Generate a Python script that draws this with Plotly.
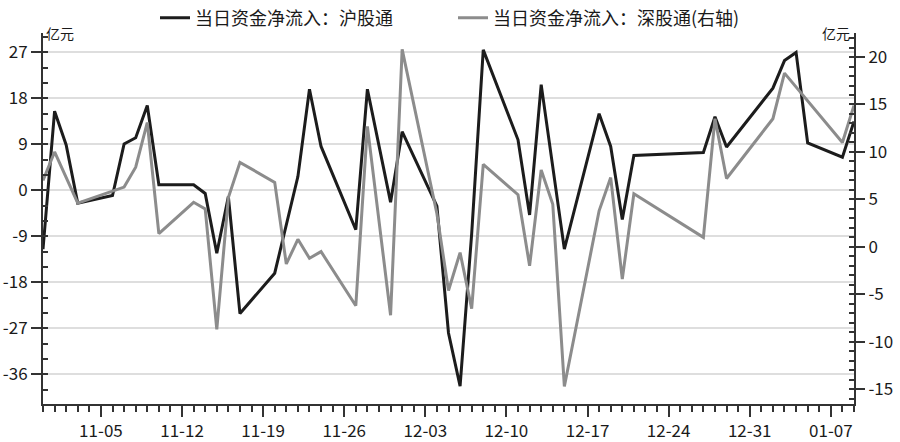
import plotly.graph_objects as go

dates = ["2017-10-31", "2017-11-01", "2017-11-02", "2017-11-03", "2017-11-06", "2017-11-07",
         "2017-11-08", "2017-11-09", "2017-11-10", "2017-11-13", "2017-11-14", "2017-11-15",
         "2017-11-16", "2017-11-17", "2017-11-20", "2017-11-21", "2017-11-22", "2017-11-23",
         "2017-11-24", "2017-11-27", "2017-11-28", "2017-11-29", "2017-11-30", "2017-12-01",
         "2017-12-04", "2017-12-05", "2017-12-06", "2017-12-07", "2017-12-08", "2017-12-11",
         "2017-12-12", "2017-12-13", "2017-12-14", "2017-12-15", "2017-12-18", "2017-12-19",
         "2017-12-20", "2017-12-21", "2017-12-22", "2017-12-27", "2017-12-28", "2017-12-29",
         "2018-01-02", "2018-01-03", "2018-01-04", "2018-01-05", "2018-01-08", "2018-01-09"]

sh_flow = [-11.5, 15.5, 8.9, -2.5, -1.0, 9.1,
           10.3, 16.6, 1.1, 1.1, -0.6, -12.3,
           -1.2, -24.1, -16.2, -6.7, 2.7, 19.8,
           8.6, -7.7, 19.8, None, -2.3, 11.5,
           -3.1, -27.9, -38.3, -8.5, 27.5, 9.9,
           -4.8, 20.7, None, -11.5, 15.0, 8.6,
           -5.7, 6.85, None, 7.4, 14.4, 8.5,
           20.0, 25.4, 27.0, 9.3, 6.5, 13.5]

sz_flow = [7.0, 10.0, None, 4.6, 5.9, 6.3,
           8.4, 13.1, 1.4, 4.7, 4.0, -8.7,
           5.2, 8.9, 6.8, -1.8, 0.8, -1.2,
           -0.5, -6.2, 12.7, None, -7.2, 20.8,
           3.5, -4.6, -0.6, -6.5, 8.7, 5.5,
           -2.0, 8.1, 4.5, -14.7, 3.8, 7.3,
           -3.4, 5.6, None, 1.0, 13.5, 7.2,
           13.5, 18.3, None, None, 11.0, 14.9]

left_ticks = [-36, -27, -18, -9, 0, 9, 18, 27]
right_ticks = [-15, -10, -5, 0, 5, 10, 15, 20]

name_sh = "当日资金净流入：沪股通"
name_sz = "当日资金净流入：深股通(右轴)"

FONT = "Noto Sans CJK SC"
AX = "#333333"

fig = go.Figure()
fig.add_trace(go.Scatter(x=dates, y=sh_flow, name=name_sh, mode="lines",
                         line=dict(color="#1c1c1c", width=3), connectgaps=True,
                         yaxis="y"))
fig.add_trace(go.Scatter(x=dates, y=sz_flow, name=name_sz, mode="lines",
                         line=dict(color="#8c8c8c", width=3), connectgaps=True,
                         yaxis="y2"))

fig.update_layout(
    width=900, height=442,
    margin=dict(l=43, r=46, t=33, b=38, autoexpand=False),
    plot_bgcolor="white", paper_bgcolor="white",
    font=dict(family=FONT, size=17, color="#1a1a1a"),
    showlegend=True,
    legend=dict(orientation="h", xref="container", yref="container",
                x=155 / 900, xanchor="left", y=1 - 18 / 442, yanchor="middle",
                font=dict(size=18, family=FONT, color="#1a1a1a"),
                entrywidth=253, entrywidthmode="pixels",
                bgcolor="rgba(0,0,0,0)"),
    xaxis=dict(type="date", range=["2017-10-31", "2018-01-09"], automargin=False,
               tickmode="linear", tick0="2017-11-05", dtick=7 * 86400000,
               tickformat="%m-%d", ticks="outside", ticklen=11, tickwidth=2,
               tickcolor=AX, showline=True, linecolor=AX, linewidth=2,
               showgrid=False, zeroline=False,
               minor=dict(ticks="outside", ticklen=6, tickwidth=2, tickcolor=AX,
                          tickmode="linear", tick0="2017-10-31", dtick=86400000,
                          showgrid=False),
               tickfont=dict(size=17)),
    yaxis=dict(range=[-41.8, 30.8], automargin=False, tickmode="array", tickvals=left_ticks,
               ticktext=[str(v) for v in left_ticks],
               ticks="outside", ticklen=10, tickwidth=2, tickcolor=AX,
               showline=True, linecolor=AX, linewidth=2,
               showgrid=True, gridcolor="#dedede", gridwidth=1.5, zeroline=False,
               minor=dict(ticks="inside", ticklen=5, tickwidth=2, tickcolor=AX,
                          tickmode="linear", tick0=0, dtick=3, showgrid=False),
               tickfont=dict(size=17)),
    yaxis2=dict(range=[-16.55, 22.53], automargin=False, overlaying="y", side="right",
                tickmode="array", tickvals=right_ticks,
                ticktext=[str(v) for v in right_ticks],
                ticks="outside", ticklen=9, tickwidth=2, tickcolor=AX,
                showline=True, linecolor=AX, linewidth=2,
                showgrid=False, zeroline=False,
                minor=dict(ticks="inside", ticklen=5, tickwidth=2, tickcolor=AX,
                           tickmode="linear", tick0=0, dtick=1, showgrid=False),
                tickfont=dict(size=17)),
    annotations=[
        dict(text="亿元", xref="paper", yref="paper", x=0, y=1, xanchor="left",
             yanchor="middle", showarrow=False, xshift=1,
             font=dict(size=14, family=FONT, color="#1a1a1a")),
        dict(text="亿元", xref="paper", yref="paper", x=1, y=1, xanchor="right",
             yanchor="middle", showarrow=False, xshift=-2,
             font=dict(size=14, family=FONT, color="#1a1a1a")),
    ],
)

fig.write_html("out.html", config={"displayModeBar": False},
               post_script="document.body.style.margin='0';")
